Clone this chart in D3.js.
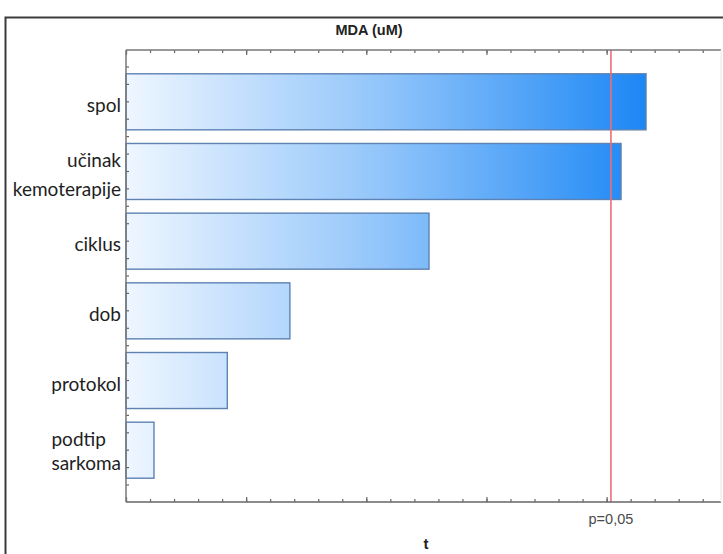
<!DOCTYPE html>
<html><head><meta charset="utf-8">
<script src="https://cdn.jsdelivr.net/npm/d3@7"></script>
<style>body{margin:0;background:#fff;overflow:hidden}</style>
</head><body><svg id="c" width="723" height="554"></svg>
<script>
// ---- data ----
const title = "MDA (uM)";
const xAxisTitle = "t";
const categories = ["spol", "učinak\nkemoterapije", "ciklus", "dob", "protokol", "podtip\nsarkoma"];
const tValues = [2.164, 2.060, 1.261, 0.682, 0.4216, 0.1165];
const criticalT = 2.018;
const criticalLabel = "p=0,05";
const xDomain = [0, 2.476];
const minorStep = 0.1;
const majorStep = 0.5;

// ---- style / layout ----
const W = 723, H = 554;
const plot = {left: 126, right: 721, top: 50, bottom: 502};
const labelStyle = { // per-category label layout (not data)
  "podtip\nsarkoma": {align: "start", gap: 24},
  "učinak\nkemoterapije": {align: "end", gap: 29}
};

const svg = d3.select("#c");

// outer frame
svg.append("path").attr("d", `M5.5,${H} V17.5 H${W}`)
  .attr("fill", "none").attr("stroke", "#3c3c3c").attr("stroke-width", 2);

const x = d3.scaleLinear().domain(xDomain).range([plot.left, plot.right]);
const y = d3.scaleBand().domain(categories).range([plot.top, plot.bottom])
  .paddingInner(0.196).paddingOuter(0.3415);

// gradient across value range
const defs = svg.append("defs");
const grad = defs.append("linearGradient").attr("id", "g")
  .attr("gradientUnits", "userSpaceOnUse")
  .attr("x1", x(0)).attr("x2", x(d3.max(tValues))).attr("y1", 0).attr("y2", 0);
grad.append("stop").attr("offset", 0).attr("stop-color", "#eef6ff");
grad.append("stop").attr("offset", 0.5).attr("stop-color", "#90c4fa");
grad.append("stop").attr("offset", 1).attr("stop-color", "#1c87f5");

// bars
svg.append("g").selectAll("rect").data(categories).join("rect")
  .attr("x", x(0))
  .attr("y", d => y(d))
  .attr("width", (d, i) => x(tValues[i]) - x(0))
  .attr("height", y.bandwidth())
  .attr("fill", "url(#g)")
  .attr("stroke", "#5d82b3").attr("stroke-width", 1.4);

// critical line
svg.append("line")
  .attr("x1", x(criticalT)).attr("x2", x(criticalT))
  .attr("y1", plot.top).attr("y2", plot.bottom)
  .attr("stroke", "#ea6f74").attr("stroke-width", 1.6);

// axes (ticks inward, no labels)
const minorTicks = d3.range(xDomain[0], xDomain[1] + 1e-9, minorStep);
const majorTicks = d3.range(xDomain[0], xDomain[1] + 1e-9, majorStep);
function xAxis(g, gen) {
  g.call(gen);
  g.selectAll("text").remove();
  g.select(".domain").remove();
  g.selectAll("line").attr("stroke", "#666").attr("stroke-width", 1.2);
}
svg.append("g").attr("transform", `translate(0,${plot.bottom})`)
  .call(g => xAxis(g, d3.axisBottom(x).tickValues(minorTicks).tickSize(-3)));
svg.append("g").attr("transform", `translate(0,${plot.bottom})`)
  .call(g => xAxis(g, d3.axisBottom(x).tickValues(majorTicks).tickSize(-5)));
svg.append("g").attr("transform", `translate(0,${plot.top})`)
  .call(g => xAxis(g, d3.axisTop(x).tickValues(minorTicks).tickSize(-3)));
svg.append("g").attr("transform", `translate(0,${plot.top})`)
  .call(g => xAxis(g, d3.axisTop(x).tickValues(majorTicks).tickSize(-5)));

// left axis ticks every quarter step
const q = y.step() / 4;
const yTicks = [];
categories.forEach(c => {
  const cy = y(c) + y.bandwidth() / 2;
  for (let k = -2; k <= 2; k++) yTicks.push(cy + k * q);
});
const yTickPos = Array.from(new Set(yTicks.map(v => Math.round(v * 10) / 10)))
  .filter(v => v > plot.top + 2 && v < plot.bottom - 2);
svg.append("g").selectAll("line").data(yTickPos).join("line")
  .attr("x1", plot.left).attr("x2", plot.left + 3)
  .attr("y1", d => d).attr("y2", d => d)
  .attr("stroke", "#666").attr("stroke-width", 1.2);

// frame lines of plot
svg.append("line").attr("x1", plot.left).attr("x2", plot.right)
  .attr("y1", plot.top).attr("y2", plot.top).attr("stroke", "#777").attr("stroke-width", 1.5);
svg.append("line").attr("x1", plot.left).attr("x2", plot.right)
  .attr("y1", plot.bottom).attr("y2", plot.bottom).attr("stroke", "#666").attr("stroke-width", 1.5);
svg.append("line").attr("x1", plot.left).attr("x2", plot.left)
  .attr("y1", plot.top).attr("y2", plot.bottom).attr("stroke", "#777").attr("stroke-width", 1.5);
svg.append("line").attr("x1", plot.right).attr("x2", plot.right)
  .attr("y1", plot.top).attr("y2", plot.bottom).attr("stroke", "#e6e6e6").attr("stroke-width", 1);

// category labels
const labG = svg.append("g").attr("font-family", "Lato, 'Open Sans', sans-serif")
  .attr("font-size", 19).attr("fill", "#1e1e1e");
categories.forEach(c => {
  const lines = c.split("\n");
  const cy = y(c) + y.bandwidth() / 2;
  const st = labelStyle[c] || {align: "end", gap: 0};
  const t = labG.append("text");
  if (lines.length === 1) {
    t.attr("x", 121).attr("y", cy + 10).attr("text-anchor", "end").text(lines[0]);
    return;
  }
  lines.forEach((ln, i) => {
    t.append("tspan").attr("x", 121).attr("y", cy - 4 + i * st.gap).text(ln);
  });
  if (st.align === "start") {
    const w = t.node().getBBox().width;
    t.selectAll("tspan").attr("x", 121 - w);
    t.attr("text-anchor", "start");
  } else {
    t.attr("text-anchor", "end");
  }
});

// title
svg.append("text").attr("x", 369).attr("y", 35).attr("text-anchor", "middle")
  .attr("font-family", "'Liberation Sans', Arial, sans-serif").attr("font-weight", "bold")
  .attr("font-size", 14.5).attr("fill", "#222").text(title);

// critical label
svg.append("text").attr("x", x(criticalT)).attr("y", 523.5).attr("text-anchor", "middle")
  .attr("font-family", "'Liberation Sans', Arial, sans-serif")
  .attr("font-size", 14.5).attr("fill", "#4a4a4a").text(criticalLabel);

// x axis title
svg.append("text").attr("x", 426).attr("y", 549).attr("text-anchor", "middle")
  .attr("font-family", "'Liberation Sans', Arial, sans-serif").attr("font-weight", "bold")
  .attr("font-size", 15).attr("fill", "#222").text(xAxisTitle);
</script></body></html>
